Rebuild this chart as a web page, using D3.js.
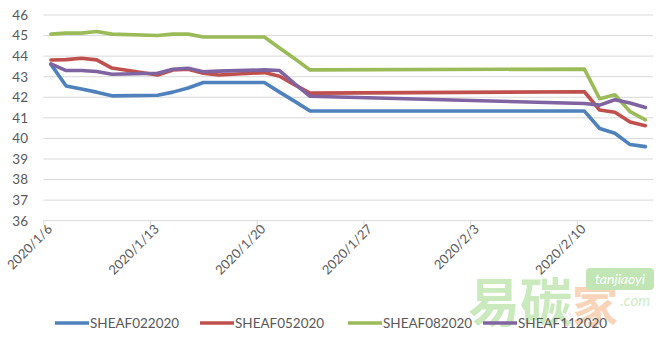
<!DOCTYPE html>
<html><head><meta charset="utf-8">
<script src="https://cdn.jsdelivr.net/npm/d3@7/dist/d3.min.js"></script>
<style>html,body{margin:0;padding:0;background:#fff;}svg{display:block;}</style>
</head><body>
<svg id="chart" width="661" height="340"></svg>
<script>
// ---- data ----
const dates = ["2020-01-06","2020-01-07","2020-01-08","2020-01-09","2020-01-10",
  "2020-01-13","2020-01-14","2020-01-15","2020-01-16","2020-01-17",
  "2020-01-20","2020-01-21","2020-01-22","2020-01-23",
  "2020-02-10","2020-02-11","2020-02-12","2020-02-13","2020-02-14"];
const seriesNames = ["SHEAF022020","SHEAF052020","SHEAF082020","SHEAF112020"];
const sheaf022020 = [43.6,42.55,42.4,42.25,42.07, 42.1,42.25,42.45,42.72,42.72, 42.72,42.25,41.8,41.33, 41.33,40.48,40.25,39.7,39.6];
const sheaf052020 = [43.81,43.83,43.9,43.82,43.42, 43.08,43.33,43.36,43.17,43.08, 43.2,43.02,42.6,42.2, 42.27,41.38,41.27,40.8,40.62];
const sheaf082020 = [45.07,45.12,45.12,45.2,45.07, 45.0,45.07,45.07,44.93,44.93, 44.93,44.4,43.87,43.33, 43.37,41.93,42.12,41.3,40.9];
const sheaf112020 = [43.62,43.3,43.3,43.25,43.12, 43.17,43.36,43.41,43.24,43.27, 43.33,43.3,42.65,42.05, 41.7,41.62,41.88,41.72,41.5];
const yTicks = [36,37,38,39,40,41,42,43,44,45,46];
const xTickLabels = ["2020/1/6","2020/1/13","2020/1/20","2020/1/27","2020/2/3","2020/2/10"];
const colors = ["#4F81BD","#C0504D","#9BBB59","#8064A2"];

// ---- setup ----
const svg = d3.select("#chart");
const parse = d3.timeParse("%Y-%m-%d");
const parseTick = d3.timeParse("%Y/%m/%d");
const x = d3.scaleTime().domain([parse("2020-01-06"), parse("2020-02-15")]).range([43.3, 653]);
const y = d3.scaleLinear().domain([36,46]).range([220.7, 15]);
const font = "Lato, 'Open Sans', sans-serif";
const textCol = "#595959";

// watermark
const wm = svg.append("g").attr("opacity", 0.55);
wm.append("text").attr("x", 468).attr("y", 322).attr("font-family","'Noto Sans CJK SC'")
  .attr("font-size", 52).attr("font-weight","bold").attr("fill", "#9fd98a").text("易碳");
wm.append("text").attr("x", 572).attr("y", 322).attr("font-family","'Noto Sans CJK SC'")
  .attr("font-size", 46).attr("font-weight","bold").attr("fill", "#f3b27f").text("家");
wm.append("rect").attr("x", 586).attr("y", 268).attr("width", 68).attr("height", 22).attr("rx", 4).attr("fill", "#8fd17a");
wm.append("text").attr("x", 620).attr("y", 284).attr("text-anchor","middle").attr("font-family",font)
  .attr("font-size", 14).attr("font-style","italic").attr("fill", "#fff").text("tanjiaoyi");
wm.append("text").attr("x", 650).attr("y", 306).attr("text-anchor","end").attr("font-family",font)
  .attr("font-size", 15).attr("font-style","italic").attr("fill", "#a9dc95").text(".com");

// gridlines
svg.append("g").selectAll("line").data(yTicks.filter(v => v !== 36)).join("line")
  .attr("x1", 43.3).attr("x2", 653).attr("y1", d => y(d)).attr("y2", d => y(d))
  .attr("stroke", "#d9d9d9").attr("stroke-width", 1);

// y labels
svg.append("g").selectAll("text").data(yTicks).join("text")
  .attr("x", 28).attr("y", d => y(d)).attr("dy", "0.36em").attr("text-anchor", "end")
  .attr("font-family", font).attr("font-size", 13.5).attr("fill", textCol).text(d => d);

// x axis
const xAxis = d3.axisBottom(x)
  .tickValues(xTickLabels.map(parseTick))
  .tickSize(5).tickFormat(d3.timeFormat("%Y/%-m/%-d"));
const gx = svg.append("g").attr("transform", `translate(0,${y(36)})`).call(xAxis);
gx.select(".domain").attr("stroke", "#d9d9d9").attr("d", `M43.3,0H653`);
gx.selectAll(".tick line").attr("stroke", "#d9d9d9");
gx.selectAll(".tick text")
  .attr("font-family", font).attr("font-size", 13).attr("fill", textCol)
  .attr("text-anchor", "end").attr("dy", "0.35em")
  .attr("transform", "translate(6,6) rotate(-45)").attr("x", 0).attr("y", 0);

// lines
const allSeries = [sheaf022020, sheaf052020, sheaf082020, sheaf112020];
const line = d3.line()
  .x((d, i) => x(d3.timeHour.offset(parse(dates[i]), 12)))
  .y(d => y(d));
svg.append("g").selectAll("path").data(allSeries).join("path")
  .attr("d", d => line(d)).attr("fill", "none")
  .attr("stroke", (d, i) => colors[i]).attr("stroke-width", 3.6)
  .attr("stroke-linejoin", "round").attr("stroke-linecap", "round");

// legend
const legX = [55, 200, 348, 483];
const leg = svg.append("g").selectAll("g").data(seriesNames).join("g")
  .attr("transform", (d, i) => `translate(${legX[i]},323)`);
leg.append("line").attr("x1", 0).attr("x2", 34).attr("y1", 0).attr("y2", 0)
  .attr("stroke", (d, i) => colors[i]).attr("stroke-width", 3.6);
leg.append("text").attr("x", 35).attr("y", 0).attr("dy", "0.36em")
  .attr("font-family", font).attr("font-size", 13.5).attr("fill", textCol).text(d => d);
</script>
</body></html>
